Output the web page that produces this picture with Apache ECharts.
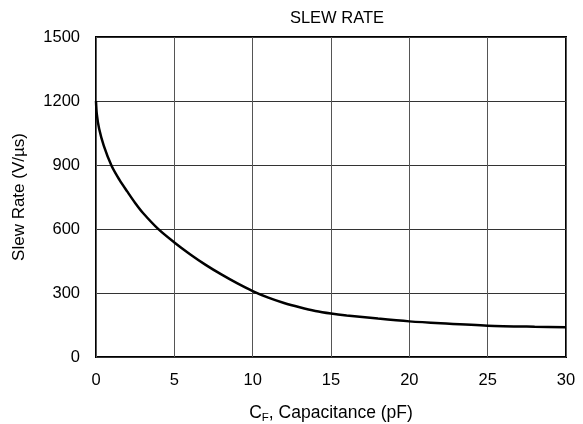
<!DOCTYPE html>
<html><head><meta charset="utf-8">
<script src="https://cdn.jsdelivr.net/npm/echarts@6/dist/echarts.min.js"></script>
<style>html,body{margin:0;padding:0;background:#fff}#c{width:583px;height:424px}</style>
</head><body><div id="c"></div>
<script>
var capacitance = [0, 0.05, 0.2, 0.5, 1, 1.5, 2, 2.5, 3, 4, 5, 6, 7, 8, 9, 10, 11, 12, 13, 14, 15, 16, 18, 20, 22, 25, 28, 30];
var slewRate = [1200, 1140, 1070, 990, 895, 830, 775, 722, 675, 598, 537, 482, 432, 387, 346, 309, 278, 253, 233, 216, 204, 195, 180, 167, 158, 147, 142, 140];
var xTicks = [0, 5, 10, 15, 20, 25, 30];
var yTicks = [0, 300, 600, 900, 1200, 1500];
var title = 'SLEW RATE';
var yName = 'Slew Rate (V/µs)';

var data = capacitance.map(function (c, i) { return [c, slewRate[i]]; });
var chart = echarts.init(document.getElementById('c'));
var font = 'Liberation Sans, Arial, sans-serif';
chart.setOption({
  animation: false,
  title: { text: title, left: 332, top: 5, textAlign: 'center',
    textStyle: { fontFamily: font, fontSize: 16.5, fontWeight: 'normal', color: '#000' } },
  grid: { left: 96, top: 37, right: 17, bottom: 67, outerBoundsMode: 'none', containLabel: false,
    show: true, borderColor: '#000', borderWidth: 2, backgroundColor: 'transparent' },
  xAxis: {
    type: 'value', min: xTicks[0], max: xTicks[xTicks.length - 1], interval: 5,
    axisLine: { show: false }, axisTick: { show: false },
    splitLine: { show: true, lineStyle: { color: '#555', width: 1 } },
    axisLabel: { fontFamily: font, fontSize: 16.5, color: '#000', margin: 15 },
    name: '{n|C}{s|F}{n|, Capacitance (pF)}', nameLocation: 'middle', nameGap: 46,
    nameTextStyle: { rich: {
      n: { fontFamily: font, fontSize: 17.5, color: '#000' },
      s: { fontFamily: font, fontSize: 11.5, color: '#000', verticalAlign: 'bottom', padding: [9, 0, 0, 0] }
    } }
  },
  yAxis: {
    type: 'value', min: yTicks[0], max: yTicks[yTicks.length - 1], interval: 300,
    axisLine: { show: false }, axisTick: { show: false },
    splitLine: { show: true, lineStyle: { color: '#333', width: 1 } },
    axisLabel: { fontFamily: font, fontSize: 16.5, color: '#000', margin: 16, formatter: function (v) { return String(v); } },
    name: yName, nameLocation: 'middle', nameGap: 68, nameRotate: 90,
    nameTextStyle: { fontFamily: font, fontSize: 17, color: '#000' }
  },
  series: [{
    type: 'line', data: data, smooth: 0.3, showSymbol: false,
    lineStyle: { color: '#000', width: 2.5 }
  }]
});
</script></body></html>
